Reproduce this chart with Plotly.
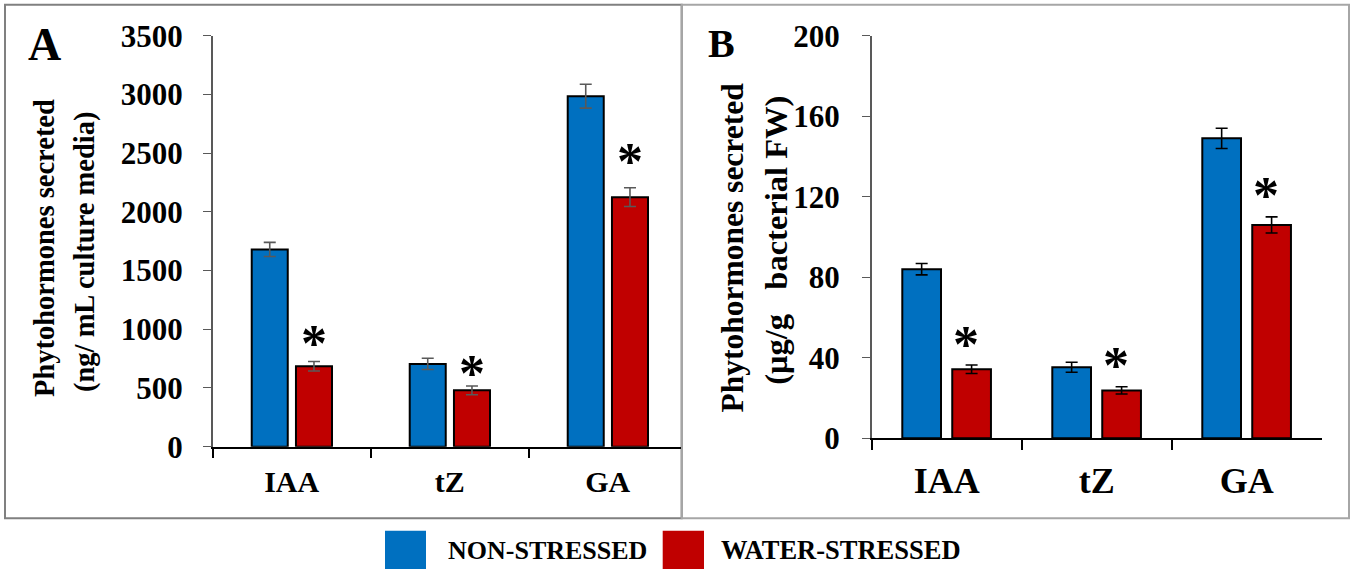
import plotly.graph_objects as go

# ---------------- data ----------------
categories = ["IAA", "tZ", "GA"]

a_non_stressed = [1680, 705, 2985]
a_non_err = [60, 48, 102]
a_water_stressed = [685, 480, 2125]
a_water_err = [40, 37, 80]
a_star_y = [954, 698, 2502]

b_non_stressed = [84, 35.3, 149]
b_non_err = [2.8, 2.5, 5]
b_water_stressed = [34.3, 23.8, 106]
b_water_err = [2.1, 1.8, 4]
b_star_y = [51.3, 40.5, 125.3]

a_ticks = [0, 500, 1000, 1500, 2000, 2500, 3000, 3500]
b_ticks = [0, 40, 80, 120, 160, 200]

series_names = ["NON-STRESSED", "WATER-STRESSED"]
# --------------------------------------

W, H = 1350, 569
FONT = "Liberation Serif, Times New Roman, serif"
BLUE = "#0070C0"
RED = "#C00000"


def px(x):
    return x / W


def py(y):
    return 1 - y / H


fig = go.Figure()

# panel A bars
A_W = 0.228
fig.add_trace(go.Bar(x=categories, y=a_non_stressed, name=series_names[0],
                     width=A_W, offset=-0.253,
                     marker=dict(color=BLUE, line=dict(color="black", width=2)),
                     error_y=dict(type="data", array=a_non_err, color="#595959", thickness=1.6, width=6),
                     xaxis="x", yaxis="y", showlegend=False))
fig.add_trace(go.Bar(x=categories, y=a_water_stressed, name=series_names[1],
                     width=A_W, offset=0.027,
                     marker=dict(color=RED, line=dict(color="black", width=2)),
                     error_y=dict(type="data", array=a_water_err, color="#595959", thickness=1.6, width=6),
                     xaxis="x", yaxis="y", showlegend=False))

# panel B bars
B_W = 0.258
fig.add_trace(go.Bar(x=categories, y=b_non_stressed, name=series_names[0],
                     width=B_W, offset=-0.296,
                     marker=dict(color=BLUE, line=dict(color="black", width=2)),
                     error_y=dict(type="data", array=b_non_err, color="black", thickness=1.6, width=6),
                     xaxis="x2", yaxis="y2", showlegend=False))
fig.add_trace(go.Bar(x=categories, y=b_water_stressed, name=series_names[1],
                     width=B_W, offset=0.037,
                     marker=dict(color=RED, line=dict(color="black", width=2)),
                     error_y=dict(type="data", array=b_water_err, color="black", thickness=1.6, width=6),
                     xaxis="x2", yaxis="y2", showlegend=False))

xa_common = dict(type="category", categoryorder="array", categoryarray=categories,
                 showline=True, linecolor="black", linewidth=2, ticks="outside",
                 tickson="boundaries", tickcolor="black", tickwidth=1.5,
                 showgrid=False, zeroline=False, fixedrange=True)

fig.update_layout(
    width=W, height=H,
    margin=dict(l=0, r=0, t=0, b=0, autoexpand=False),
    paper_bgcolor="white", plot_bgcolor="white",
    barmode="overlay",
    font=dict(family=FONT, color="black"),
    xaxis=dict(**xa_common, domain=[px(212.7), px(681)], range=[-0.5, 2.464],
               ticklen=9, ticklabelstandoff=7,
               tickfont=dict(family=FONT, size=30, color="black", weight="bold"), anchor="y"),
    yaxis=dict(domain=[py(446.7), py(35.7)], range=[0, 3500], tickvals=a_ticks,
               showline=True, linecolor="#595959", linewidth=1.5, ticks="outside",
               ticklen=8, tickcolor="#595959", showgrid=False, zeroline=False,
               ticklabelstandoff=14,
               tickfont=dict(family=FONT, size=31, color="black", weight="bold"), anchor="x"),
    xaxis2=dict(**xa_common, domain=[px(871.7), px(1321.7)], range=[-0.5, 2.5],
                ticklen=10, ticklabelstandoff=9,
                tickfont=dict(family=FONT, size=36, color="black", weight="bold"), anchor="y2"),
    yaxis2=dict(domain=[py(438.3), py(35.7)], range=[0, 200], tickvals=b_ticks,
                showline=True, linecolor="#595959", linewidth=1.5, ticks="outside",
                ticklen=8, tickcolor="#595959", showgrid=False, zeroline=False,
                ticklabelstandoff=16,
                tickfont=dict(family=FONT, size=31, color="black", weight="bold"), anchor="x2"),
)

annotations = []
# significance stars
for i, c in enumerate(categories):
    annotations.append(dict(x=i + 0.027 + A_W / 2, y=a_star_y[i], xref="x", yref="y",
                            text="*", showarrow=False, yanchor="middle", yshift=-9,
                            font=dict(family=FONT, size=52, color="black", weight="bold")))
    annotations.append(dict(x=i + 0.037 + B_W / 2, y=b_star_y[i], xref="x2", yref="y2",
                            text="*", showarrow=False, yanchor="middle", yshift=-9, xshift=-6,
                            font=dict(family=FONT, size=52, color="black", weight="bold")))

# panel letters
annotations.append(dict(x=px(26), y=py(44), xref="paper", yref="paper", text="<b>A</b>",
                        showarrow=False, xanchor="left", yanchor="middle",
                        font=dict(family=FONT, size=46, color="black")))
annotations.append(dict(x=px(706), y=py(43.3), xref="paper", yref="paper", text="<b>B</b>",
                        showarrow=False, xanchor="left", yanchor="middle",
                        font=dict(family=FONT, size=40, color="black")))

# y axis titles
NB = "\u00a0"
for txt, xc, yc, sz in [("Phytohormones secreted", 45, 248, 28.5),
                        ("(ng/ mL culture media)", 85, 251, 28.5),
                        ("Phytohormones secreted", 732.5, 248, 31.5),
                        ("(μg/g" + NB * 3 + "bacterial FW)", 775.8, 240, 32.5)]:
    annotations.append(dict(x=px(xc), y=py(yc), xref="paper", yref="paper", text="<b>" + txt + "</b>",
                            showarrow=False, textangle=-90, xanchor="center", yanchor="middle",
                            font=dict(family=FONT, size=sz, color="black")))

# legend texts
annotations.append(dict(x=px(446), y=py(550), xref="paper", yref="paper", text="<b>" + series_names[0] + "</b>",
                        showarrow=False, xanchor="left", yanchor="middle",
                        font=dict(family=FONT, size=26, color="black")))
annotations.append(dict(x=px(719), y=py(550), xref="paper", yref="paper", text="<b>" + series_names[1] + "</b>",
                        showarrow=False, xanchor="left", yanchor="middle",
                        font=dict(family=FONT, size=26.5, color="black")))

shapes = [
    # panel frames
    dict(type="rect", xref="paper", yref="paper", x0=px(5), x1=px(681.7), y0=py(518.3), y1=py(4.7),
         line=dict(color="#808080", width=2), fillcolor="rgba(0,0,0,0)", layer="below"),
    dict(type="rect", xref="paper", yref="paper", x0=px(681.7), x1=px(1349), y0=py(518.3), y1=py(4.7),
         line=dict(color="#a6a6a6", width=2), fillcolor="rgba(0,0,0,0)", layer="below"),
    # legend swatches
    dict(type="rect", xref="paper", yref="paper", x0=px(385), x1=px(426), y0=py(569), y1=py(530.7),
         line=dict(width=0), fillcolor=BLUE),
    dict(type="rect", xref="paper", yref="paper", x0=px(662.7), x1=px(704), y0=py(569), y1=py(530.7),
         line=dict(width=0), fillcolor=RED),
]

fig.update_layout(annotations=annotations, shapes=shapes)

fig.write_html("out.html")
